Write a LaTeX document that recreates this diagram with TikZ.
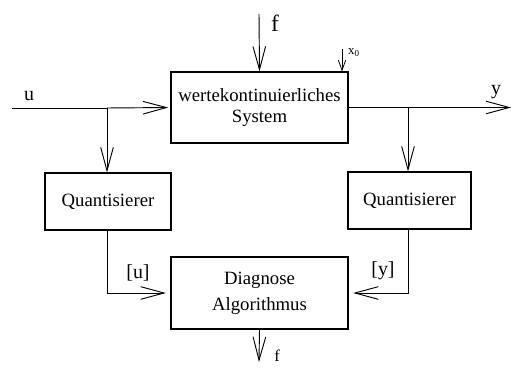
\documentclass[tikz,border=0pt]{standalone}
\usepackage{fontspec}
\setmainfont{Liberation Serif}
\usetikzlibrary{arrows.meta,positioning}

\tikzset{
  blk/.style={draw, line width=0.9pt, inner sep=0pt, align=center,
    font=\fontsize{16}{18}\selectfont},
  sig/.style={line width=0.8pt, -{Straight Barb[length=0.7cm,width=0.38cm]}},
  sigsmall/.style={line width=0.7pt, -{Straight Barb[length=0.3cm,width=0.22cm]}},
  lbl/.style={inner sep=0pt, font=\fontsize{17}{19}\selectfont},
}

\begin{document}
\begin{tikzpicture}[x=0.03cm,y=-0.03cm]
\useasboundingbox (0,0) rectangle (511,367);

% ----- blocks -----
\node[blk, minimum width=5.31cm, minimum height=2.13cm] (sys) at (259.5,107.5) {wertekontinuierliches\\System};
\node[blk, minimum width=3.78cm, minimum height=1.71cm] (qu) at (108,201.5) {Quantisierer};
\node[blk, minimum width=3.69cm, minimum height=1.71cm] (qy) at (409.5,200.5) {Quantisierer};
\node[blk, minimum width=5.31cm, minimum height=2.16cm] (diag) at (259.5,293) {Diagnose\\[4pt]Algorithmus};

% ----- branch points and free ends -----
\coordinate (uin) at (12,108);
\coordinate (ubr) at (107,108);
\coordinate (ybr) at (408,107.5);
\coordinate (yout) at (511,107.5);
\coordinate (fin) at (259,14);
\coordinate (fout) at (259,362);
\coordinate (xin) at (342,49);

% ----- signals -----
\draw[line width=0.8pt] (uin) -- (ubr);
\draw[sig, shorten >=2pt] (ubr) -- (sys.west);
\draw[sig] (ubr) -- (ubr |- qu.north);
\draw[sig] (sys.east) -- (yout);
\draw[sig] (ybr) -- (ybr |- qy.north);
\draw[sig, shorten >=4pt] (ubr |- qu.south) |- (diag.west);
\draw[sig, shorten >=4pt] (ybr |- qy.south) |- (diag.east);
\draw[sig] (fin) -- (sys.north);
\draw[sigsmall] (xin) -- (xin |- sys.north);
\draw[sig] (diag.south) -- (fout);

% ----- labels -----
\node[lbl] (lu) at (29,96) {u};
\node[lbl] (ly) at (496,92) {y};
\node[lbl, font=\fontsize{20}{22}\selectfont] (lfin) at (275,23) {f};
\node[lbl, font=\fontsize{11}{12}\selectfont] (lx) at (354,53) {x\textsubscript{0}};
\node[lbl] (lqu) at (138,273) {[u]};
\node[lbl] (lqy) at (383,271) {[y]};
\node[lbl, font=\fontsize{14}{16}\selectfont] (lfout) at (277,356) {f};

\end{tikzpicture}
\end{document}
